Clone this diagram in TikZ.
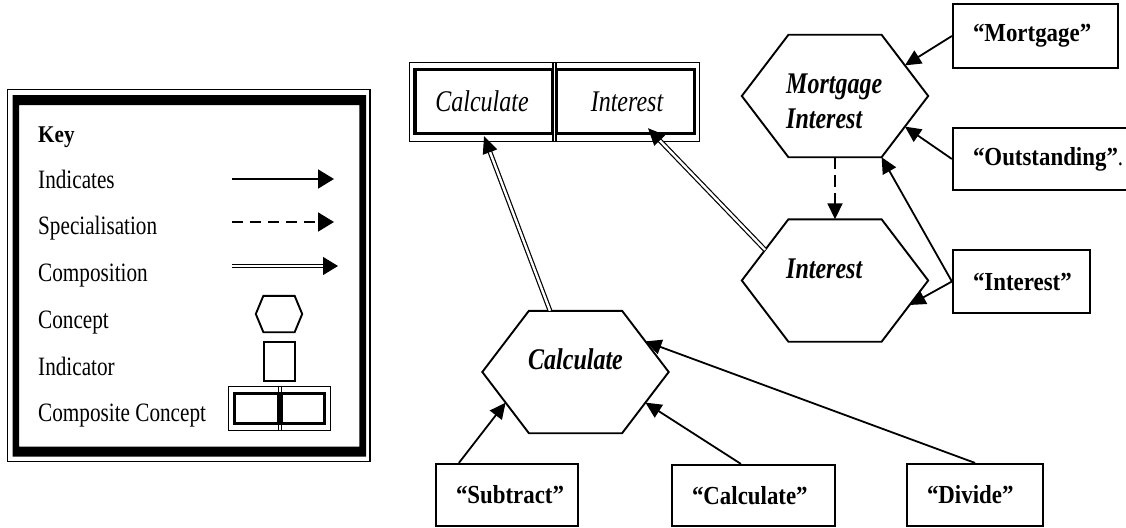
\documentclass[tikz,border=0pt]{standalone}
\usepackage{fontspec}
\setmainfont{Liberation Serif}[UprightFeatures={FakeStretch=0.8}, BoldFeatures={FakeStretch=0.88}, ItalicFeatures={FakeStretch=0.8}, BoldItalicFeatures={FakeStretch=0.8}]
\usetikzlibrary{arrows.meta,calc}
\newcommand\hexdraw[2]{%
  \draw[hexline] (#1.west) -- ($(#1.north west)!#2!(#1.north east)$) -- ($(#1.north east)!#2!(#1.north west)$) -- (#1.east) -- ($(#1.south east)!#2!(#1.south west)$) -- ($(#1.south west)!#2!(#1.south east)$) -- cycle;
  \coordinate (#1-nw) at ($(#1.north west)!#2!(#1.north east)$);
  \coordinate (#1-ne) at ($(#1.north east)!#2!(#1.north west)$);
  \coordinate (#1-se) at ($(#1.south east)!#2!(#1.south west)$);
  \coordinate (#1-sw) at ($(#1.south west)!#2!(#1.south east)$);
}
\tikzset{
  x=1pt, y=-1pt,
  hexbox/.style={rectangle, draw=none, inner sep=0pt, minimum width=186pt, minimum height=122pt},
  hexline/.style={line width=1.9pt, line join=miter},
  hextext/.style={anchor=base west, inner sep=0pt, font=\bfseries\itshape\fontsize{30}{35}\selectfont},
  indbox/.style={draw, line width=2.2pt, inner xsep=20pt, inner ysep=0pt, align=left,
                 font=\bfseries\fontsize{26}{30}\selectfont},
  compbox/.style={rectangle, draw=none, inner sep=0pt, font=\itshape\fontsize{30}{35}\selectfont},
  thinline/.style={line width=1.3pt},
  thickline/.style={line width=3.4pt},
  conn/.style={line width=1.8pt, -{Triangle[length=16pt,width=15pt]}},
  spec/.style={conn, dash pattern=on 12pt off 6pt},
  comp/.style={line width=1.2pt, double distance=2.4pt, -{Triangle[length=17pt,width=15pt]}},
  keytext/.style={anchor=base west, inner sep=0pt, font=\fontsize{26.5}{30}\selectfont},
}
\begin{document}
\begin{tikzpicture}
\useasboundingbox (0,0) rectangle (1126,527);

% ---------- Key ----------
\draw[thinline] (7.5,89.5) rectangle (370,461.5);
\fill[even odd rule] (12.7,95) rectangle (366,456.7) (19,105) rectangle (359.3,446.7);
\node[keytext, font=\bfseries\fontsize{24}{30}\selectfont] (kkey) at (38,142) {Key};
\node[keytext] (kind) at (38,188) {Indicates};
\node[keytext] (kspec) at (38,234) {Specialisation};
\node[keytext] (kcomp) at (38,281.5) {Composition};
\node[keytext] (kcon) at (38,328) {Concept};
\node[keytext] (kindic) at (38,375) {Indicator};
\node[keytext] (kcc) at (38,421.5) {Composite Concept};

\coordinate (ka1) at (232,179);  \coordinate (kb1) at (334,179);
\coordinate (ka2) at (232,222);  \coordinate (kb2) at (334,222);
\coordinate (ka3) at (232,266);  \coordinate (kb3) at (338,266);
\draw[conn, -{Triangle[length=16pt,width=19pt]}] (ka1) -- (kb1);
\draw[spec, dash pattern=on 11pt off 7pt, -{Triangle[length=16pt,width=19pt]}] (ka2) -- (kb2);
\draw[comp, line width=1pt, double distance=2.2pt, -{Triangle[length=15pt,width=18pt]}] (ka3) -- (kb3);

\node[hexbox, minimum width=46pt, minimum height=36pt] (khex) at (279,314) {};
\hexdraw{khex}{0.163}
\node[draw, line width=1.9pt, minimum width=31pt, minimum height=39pt, inner sep=0pt] (kind2) at (279.5,361.5) {};
\node[compbox, minimum width=51pt, minimum height=43pt] (kcl) at (254.5,408.5) {};
\node[compbox, minimum width=50pt, minimum height=43pt] (kcr) at (305,408.5) {};
\draw[thinline] (kcl.north west) rectangle (kcr.south east);
\draw[line width=2.8pt] ($(kcl.north west)+(6,7)$) rectangle ($(kcl.south east)+(-1.5,-7)$);
\draw[line width=2.8pt] ($(kcr.north west)+(1.5,7)$) rectangle ($(kcr.south east)+(-5.5,-7)$);
\draw[thinline] ($(kcl.north east)+(-1.5,0)$) -- ($(kcl.south east)+(-1.5,0)$);
\draw[thinline] ($(kcr.north west)+(1.5,0)$) -- ($(kcr.south west)+(1.5,0)$);

% ---------- Composite concept ----------
\node[compbox, minimum width=145pt, minimum height=78.5pt] (cl) at (482,101.75) {Calculate};
\node[compbox, minimum width=145pt, minimum height=78.5pt] (cr) at (627,101.75) {Interest};
\draw[thinline] (cl.north west) rectangle (cr.south east);
\draw[thickline] ($(cl.north west)+(5.5,7)$) rectangle ($(cl.south east)+(-2,-7.5)$);
\draw[thickline] ($(cr.north west)+(2,7)$) rectangle ($(cr.south east)+(-5,-7.5)$);
\draw[line width=2pt] ($(cl.north east)+(-2,0)$) -- ($(cl.south east)+(-2,0)$);
\draw[line width=2pt] ($(cr.north west)+(2,0)$) -- ($(cr.south west)+(2,0)$);

% ---------- Concepts (hexagons) ----------
\node[hexbox] (mh) at (835,96) {};
\hexdraw{mh}{0.25}
\node[hextext] (mht1) at ($(mh.center)+(-49,-3)$) {Mortgage};
\node[hextext] (mht2) at ($(mh.center)+(-49,32)$) {Interest};

\node[hexbox] (ih) at (835,280.5) {};
\hexdraw{ih}{0.25}
\node[hextext] (iht) at ($(ih.center)+(-49,-2.5)$) {Interest};

\node[hexbox] (ch) at (575.5,372) {};
\hexdraw{ch}{0.25}
\node[hextext, anchor=base] (cht) at ($(ch.center)+(0,-3)$) {Calculate};

% ---------- Indicators (boxes) ----------
\node[indbox, text width=125pt, minimum height=64pt] (bm) at (1035.5,36) {“Mortgage”};
\node[indbox, text width=140pt, minimum height=62pt] (bo) at (1043,159) {\mbox{“Outstanding”\mdseries.}};
\node[indbox, text width=97pt, minimum height=63pt] (bi) at (1021.5,281.5) {“Interest”};
\node[indbox, text width=102pt, minimum height=62pt] (bs) at (507,495) {“Subtract”};
\node[indbox, text width=123pt, minimum height=61pt] (bc) at (753.5,495.5) {“Calculate”};
\node[indbox, text width=96pt, minimum height=62pt] (bd) at (975,495) {“Divide”};

% ---------- Connectors ----------
\draw[conn] (bm.west) -- ($(mh-ne)!0.5!(mh.east)$);
\draw[conn] (bo.west) -- ($(mh.east)!0.5!(mh-se)$);
\draw[conn] (bi.west) -- (mh-se);
\draw[conn] (bi.west) -- ($(ih.east)!0.4!(ih-se)$);
\draw[spec] (mh.south) -- (ih.north);
\draw[comp] ($(ih.west)!0.5!(ih-nw)$) -- ($(cr.south)+(21,-13)$);
\draw[comp] ($(ch.north)+(-25.5,0)$) -- ($(cl.south)+(2,-5)$);
\draw[conn] ($(bs.north west)+(24,0)$) -- ($(ch.west)!0.5!(ch-sw)$);
\draw[conn] ($(bc.north west)+(70,0)$) -- ($(ch.east)!0.5!(ch-se)$);
\draw[conn] (bd.north) -- ($(ch-ne)!0.5!(ch.east)$);
\end{tikzpicture}
\end{document}
